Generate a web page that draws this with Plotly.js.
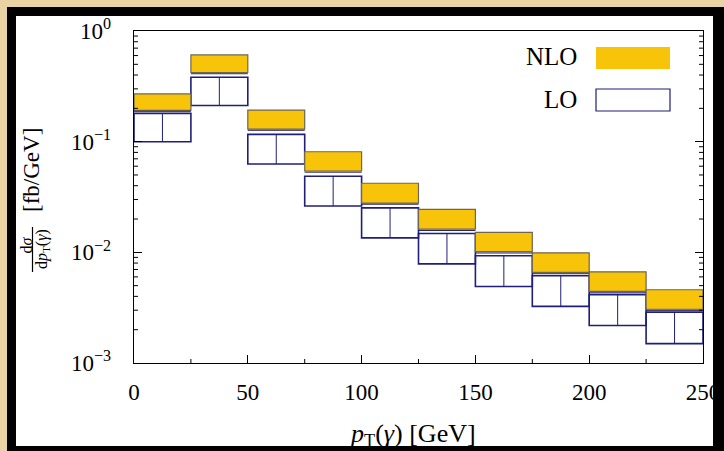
<!DOCTYPE html>
<html>
<head>
<meta charset="utf-8">
<script src="https://cdn.plot.ly/plotly-3.0.1.min.js"></script>
<style>
  html, body { margin:0; padding:0; width:724px; height:451px; overflow:hidden; background:#e9d3a5; }
  #white { position:absolute; left:16px; top:16px; width:697px; height:430px; background:#ffffff; }
  #plot { position:absolute; left:0; top:0; width:724px; height:451px; }
  #frame { position:absolute; left:7px; top:7px; width:717px; height:444px; box-sizing:border-box;
           border-left:9px solid #000; border-top:9px solid #000; border-right:11px solid #000; border-bottom:5px solid #000;
           pointer-events:none; }
</style>
</head>
<body>
<div id="white"></div>
<div id="plot"></div>
<div id="frame"></div>
<script>
// ---- data ----
const binLow  = [0, 25, 50, 75, 100, 125, 150, 175, 200, 225];
const binHigh = [25, 50, 75, 100, 125, 150, 175, 200, 225, 250];
const nloUpper = [0.270, 0.608, 0.193, 0.0811, 0.0421, 0.0244, 0.01515, 0.00990, 0.00667, 0.00459];
const nloLower = [0.1915, 0.4215, 0.130, 0.0543, 0.0278, 0.0162, 0.01015, 0.00660, 0.00443, 0.00306];
const loEdge   = [0.188, 0.411, 0.1267, 0.0530, 0.0272, 0.01576, 0.00986, 0.00641, 0.00431, 0.00299];
const loUpper  = [0.180, 0.3825, 0.1164, 0.0487, 0.0252, 0.01481, 0.00930, 0.00614, 0.00415, 0.00288];
const loLower  = [0.0998, 0.2125, 0.0628, 0.02626, 0.01351, 0.00787, 0.00491, 0.003246, 0.00218, 0.001496];
const yTickVals = [1, 0.1, 0.01, 0.001];
const yTickText = ['10<sup>0</sup>', '10<sup>\u22121</sup>', '10<sup>\u22122</sup>', '10<sup>\u22123</sup>'];
const xTickVals = [0, 50, 100, 150, 200, 250];
const xMinorVals = [25, 75, 125, 175, 225];

const YELLOW = '#f8c40a';
const NAVY = '#1f1f78';
const FONT = 'Liberation Serif, Times New Roman, serif';

const centers = binLow.map((l, i) => (l + binHigh[i]) / 2);
const widths = binLow.map((l, i) => binHigh[i] - l);

// center vertical lines and thin top lines of LO boxes
const cx = [], cy = [], tx = [], ty = [];
centers.forEach((c, i) => {
  cx.push(c, c, null); cy.push(loLower[i], loUpper[i], null);
  tx.push(binLow[i], binHigh[i], null); ty.push(loEdge[i], loEdge[i], null);
});

const traces = [
  { type:'bar', x:centers, width:widths, base:loLower, y:loUpper.map((u, i) => u - loLower[i]),
    marker:{ color:'rgba(255,255,255,0)', line:{ color:NAVY, width:1.6 } }, showlegend:false, hoverinfo:'skip' },
  { type:'bar', x:centers, width:widths, base:nloLower, y:nloUpper.map((u, i) => u - nloLower[i]),
    marker:{ color:YELLOW, line:{ color:'#6d6654', width:1.2 } }, showlegend:false, hoverinfo:'skip' },
  { type:'scatter', mode:'lines', x:cx, y:cy, line:{ color:NAVY, width:1 }, showlegend:false, hoverinfo:'skip' },
  { type:'scatter', mode:'lines', x:tx, y:ty, line:{ color:NAVY, width:1 }, showlegend:false, hoverinfo:'skip' }
];

// pixel -> paper helpers (plot area: x 134..703, y 31..363)
const L = 134, R = 703, T = 31, B = 363;
const px = p => (p - L) / (R - L);
const py = p => (B - p) / (B - T);
const W = R - L, H = B - T;

// minor ticks drawn as short shapes (inside, left and right for y; bottom for x)
const minorShapes = [];
for (let e = -3; e < 0; e++) {
  for (let m = 2; m <= 9; m++) {
    const yp = (Math.log10(m) + e + 3) / 3;
    minorShapes.push({ type:'line', xref:'paper', yref:'paper', x0:0, x1:4 / W, y0:yp, y1:yp, line:{ color:'#000', width:1 } });
    minorShapes.push({ type:'line', xref:'paper', yref:'paper', x0:1 - 4 / W, x1:1, y0:yp, y1:yp, line:{ color:'#000', width:1 } });
  }
}
xMinorVals.forEach(v => {
  minorShapes.push({ type:'line', xref:'x', yref:'paper', x0:v, x1:v, y0:0, y1:4 / H, line:{ color:'#000', width:1 } });
});

const layout = {
  width:724, height:451,
  margin:{ l:L, r:724 - R, t:T, b:451 - B },
  paper_bgcolor:'rgba(0,0,0,0)', plot_bgcolor:'rgba(0,0,0,0)',
  barmode:'overlay', bargap:0, hovermode:false,
  font:{ family:FONT, color:'#000' },
  xaxis:{ range:[0, 250], showgrid:false, zeroline:false, showline:true, linecolor:'#000', linewidth:1.3, mirror:true,
          tickmode:'array', tickvals:xTickVals, ticktext:xTickVals.map(String), ticks:'inside', ticklen:8, tickcolor:'#000', tickwidth:1,
          tickfont:{ family:FONT, size:23, color:'#000' }, ticklabelstandoff:8 },
  yaxis:{ type:'log', range:[-3, 0], showgrid:false, zeroline:false, showline:true, linecolor:'#000', linewidth:1.3, mirror:'ticks',
          tickmode:'array', tickvals:yTickVals, ticktext:yTickText, ticks:'inside', ticklen:8, tickcolor:'#000', tickwidth:1,
          tickfont:{ family:FONT, size:23, color:'#000' }, ticklabelstandoff:17 },
  shapes:minorShapes.concat([
    { type:'rect', xref:'paper', yref:'paper', x0:px(596), x1:px(670), y0:py(69), y1:py(47), fillcolor:YELLOW, line:{ width:0 } },
    { type:'rect', xref:'paper', yref:'paper', x0:px(596), x1:px(670), y0:py(111), y1:py(89), fillcolor:'#fff', line:{ color:NAVY, width:1.2 } },
    { type:'line', xref:'paper', yref:'paper', x0:px(32.5), x1:px(32.5), y0:py(272), y1:py(227), line:{ color:'#000', width:1.2 } }
  ]),
  annotations:[
    { xref:'paper', yref:'paper', x:px(579), y:py(56), xanchor:'right', yanchor:'middle', showarrow:false,
      text:'NLO', font:{ family:FONT, size:25, color:'#000' } },
    { xref:'paper', yref:'paper', x:px(579), y:py(99), xanchor:'right', yanchor:'middle', showarrow:false,
      text:'LO', font:{ family:FONT, size:25, color:'#000' } },
    { xref:'paper', yref:'paper', x:px(412), y:py(435), xanchor:'center', yanchor:'middle', showarrow:false,
      text:'<i>p</i><sub>T</sub>(<i>γ</i>) [GeV]', font:{ family:FONT, size:26, color:'#000' } },
    { xref:'paper', yref:'paper', x:px(31), y:py(170), xanchor:'center', yanchor:'middle', showarrow:false, textangle:-90,
      text:'[fb/GeV]', font:{ family:FONT, size:23, color:'#000' } },
    { xref:'paper', yref:'paper', x:px(25.5), y:py(245), xanchor:'center', yanchor:'middle', showarrow:false, textangle:-90,
      text:'d<i>σ</i>', font:{ family:FONT, size:16, color:'#000' } },
    { xref:'paper', yref:'paper', x:px(43), y:py(249), xanchor:'center', yanchor:'middle', showarrow:false, textangle:-90,
      text:'d<i>p</i><sub>T</sub>(<i>γ</i>)', font:{ family:FONT, size:16, color:'#000' } }
  ]
};

Plotly.newPlot('plot', traces, layout, { staticPlot:true, displayModeBar:false });
</script>
</body>
</html>
